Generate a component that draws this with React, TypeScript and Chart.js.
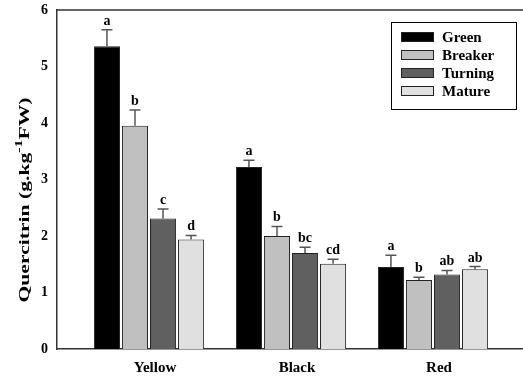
import React, { useEffect, useRef } from "react";
import { Chart, registerables } from "chart.js";

Chart.register(...registerables);

const categories = ["Yellow", "Black", "Red"];
const seriesNames = ["Green", "Breaker", "Turning", "Mature"];
const greenVals = [5.36, 3.22, 1.45];
const breakerVals = [3.95, 2.0, 1.22];
const turningVals = [2.31, 1.70, 1.32];
const matureVals = [1.94, 1.51, 1.41];
const greenErr = [0.29, 0.12, 0.21];
const breakerErr = [0.28, 0.17, 0.05];
const turningErr = [0.17, 0.10, 0.07];
const matureErr = [0.07, 0.08, 0.05];
const greenLetters = ["a", "a", "a"];
const breakerLetters = ["b", "b", "b"];
const turningLetters = ["c", "bc", "ab"];
const matureLetters = ["d", "cd", "ab"];
const yTicks = [0, 1, 2, 3, 4, 5, 6];

const colors = ["#000000", "#c0c0c0", "#606060", "#e0e0e0"];
const FONT = "'Liberation Serif', 'Times New Roman', serif";

const allVals = [greenVals, breakerVals, turningVals, matureVals];
const allErr = [greenErr, breakerErr, turningErr, matureErr];
const allLetters = [greenLetters, breakerLetters, turningLetters, matureLetters];

const errorBarPlugin = {
  id: "errorBars",
  afterDatasetsDraw(chart: any) {
    const ctx = chart.ctx;
    const yScale = chart.scales.y;
    chart.data.datasets.forEach((ds: any, i: number) => {
      const meta = chart.getDatasetMeta(i);
      meta.data.forEach((el: any, j: number) => {
        const v = allVals[i][j];
        const e = allErr[i][j];
        const yTop = yScale.getPixelForValue(v + e);
        const yBar = yScale.getPixelForValue(v);
        ctx.save();
        ctx.strokeStyle = "#555555";
        ctx.lineWidth = 1.5;
        ctx.beginPath();
        ctx.moveTo(el.x, yBar);
        ctx.lineTo(el.x, yTop);
        ctx.moveTo(el.x - 5.5, yTop);
        ctx.lineTo(el.x + 5.5, yTop);
        ctx.stroke();
        ctx.fillStyle = "#000";
        ctx.font = `bold 14px ${FONT}`;
        ctx.textAlign = "center";
        ctx.textBaseline = "alphabetic";
        ctx.fillText(allLetters[i][j], el.x, yTop - 5);
        ctx.restore();
      });
    });
  },
};

const legendPlugin = {
  id: "customLegend",
  afterDraw(chart: any) {
    const ctx = chart.ctx;
    ctx.save();
    ctx.strokeStyle = "#000";
    ctx.lineWidth = 1;
    ctx.strokeRect(391.5, 22.5, 125, 87);
    chart.data.datasets.forEach((ds: any, i: number) => {
      const cy = 37 + i * 18;
      ctx.fillStyle = ds.backgroundColor;
      ctx.fillRect(401, cy - 5, 33, 10);
      ctx.strokeStyle = "#222";
      ctx.strokeRect(401.5, cy - 4.5, 32, 9);
      ctx.fillStyle = "#000";
      ctx.font = `bold 15px ${FONT}`;
      ctx.textAlign = "left";
      ctx.textBaseline = "middle";
      ctx.fillText(ds.label, 442, cy + 1);
    });
    ctx.restore();
  },
};

const frameTitlePlugin = {
  id: "frameTitle",
  afterDraw(chart: any) {
    const ctx = chart.ctx;
    const a = chart.chartArea;
    ctx.save();
    ctx.strokeStyle = "#333";
    ctx.lineWidth = 1.5;
    ctx.beginPath();
    ctx.moveTo(a.left, a.top);
    ctx.lineTo(a.right, a.top);
    ctx.stroke();
    const main1 = "Quercitrin (g.kg";
    const sup = "-1";
    const main2 = "FW)";
    ctx.translate(29, 200);
    ctx.rotate(-Math.PI / 2);
    ctx.fillStyle = "#000";
    ctx.textBaseline = "alphabetic";
    ctx.textAlign = "left";
    ctx.font = `bold 15px ${FONT}`;
    const w1 = ctx.measureText(main1).width;
    const w3 = ctx.measureText(main2).width;
    ctx.font = `bold 11px ${FONT}`;
    const w2 = ctx.measureText(sup).width;
    const total = w1 + w2 + w3;
    const stretch = 205 / total;
    ctx.scale(stretch, 1);
    let x = -total / 2;
    ctx.font = `bold 15px ${FONT}`;
    ctx.fillText(main1, x, 0);
    x += w1;
    ctx.font = `bold 11px ${FONT}`;
    ctx.fillText(sup, x, -7);
    x += w2;
    ctx.font = `bold 15px ${FONT}`;
    ctx.fillText(main2, x, 0);
    ctx.restore();
  },
};

export default function App() {
  const ref = useRef<HTMLCanvasElement>(null);
  useEffect(() => {
    if (!ref.current) return;
    const datasets = seriesNames.map((name, i) => ({
      label: name,
      data: allVals[i].map((v, j) => ({ x: j + 1, y: v })),
      backgroundColor: colors[i],
      borderColor: "#222",
      borderWidth: 1,
      categoryPercentage: 0.79,
      barPercentage: 0.93,
    }));
    const chart = new Chart(ref.current, {
      type: "bar",
      data: { datasets },
      plugins: [errorBarPlugin, legendPlugin, frameTitlePlugin],
      options: {
        animation: false,
        responsive: false,
        maintainAspectRatio: false,
        layout: { padding: { left: 0, top: 10, right: 14, bottom: 0 } },
        plugins: { legend: { display: false }, tooltip: { enabled: false } },
        scales: {
          x: {
            type: "linear",
            min: 0.352,
            max: 3.655,
            offset: false,
            grid: { display: false, drawTicks: false, offset: false },
            border: { display: true, color: "#333", width: 1.5 },
            afterBuildTicks: (scale: any) => {
              scale.ticks = categories.map((_, i) => ({ value: i + 1 }));
            },
            afterFit: (scale: any) => {
              scale.height = 31;
              scale.paddingLeft = 0;
              scale.paddingRight = 0;
            },
            ticks: {
              padding: 10,
              labelOffset: 6,
              color: "#000",
              font: { family: FONT, size: 15, weight: "bold" },
              callback: (v: any) => categories[Math.round(v) - 1] ?? "",
            },
          },
          y: {
            min: 0,
            max: 6,
            grid: { display: false, drawTicks: false },
            border: { display: true, color: "#333", width: 1.5 },
            afterBuildTicks: (scale: any) => {
              scale.ticks = yTicks.map((v) => ({ value: v }));
            },
            afterFit: (scale: any) => {
              scale.width = 57;
              scale.paddingTop = 0;
              scale.paddingBottom = 0;
            },
            ticks: {
              padding: 9,
              color: "#000",
              font: { family: FONT, size: 14, weight: "bold" },
            },
          },
        },
      },
    });
    return () => chart.destroy();
  }, []);
  return (
    <div
      style={{
        position: "fixed",
        left: 0,
        top: 0,
        width: 523,
        height: 380,
        overflow: "hidden",
        background: "#fff",
      }}
    >
      <canvas ref={ref} width={540} height={380} style={{ width: 540, height: 380 }} />
    </div>
  );
}
